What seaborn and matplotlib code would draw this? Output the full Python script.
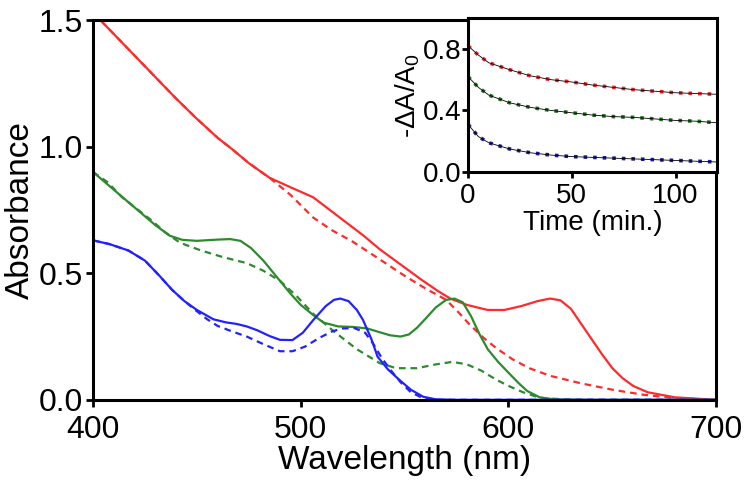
import pandas as pd
import matplotlib
matplotlib.use("Agg")
import matplotlib.pyplot as plt
import seaborn as sns

# Absorbance spectra (wavelength in nm, absorbance)
red_wl = [400, 410, 420, 430, 440, 450, 460, 467, 475, 485, 495, 506, 514, 522, 530, 538, 548,
          558, 566, 572, 580, 590, 598, 606, 614, 620, 625, 630, 635, 640, 645, 650, 655, 660,
          667, 680, 700]
red_abs = [1.53, 1.445, 1.36, 1.275, 1.19, 1.11, 1.035, 0.99, 0.935, 0.877, 0.84, 0.80, 0.75, 0.70,
           0.65, 0.595, 0.535, 0.475, 0.43, 0.40, 0.375, 0.355, 0.355, 0.37, 0.39, 0.40, 0.393,
           0.36, 0.30, 0.24, 0.18, 0.125, 0.085, 0.055, 0.03, 0.01, 0.0]

red_d_wl = [400, 410, 420, 430, 440, 450, 460, 467, 475, 485, 495, 506, 515, 525, 538, 550, 560,
            570, 576, 581, 588, 594, 602, 610, 620, 635, 650, 665, 680, 700]
red_d_abs = [1.53, 1.445, 1.36, 1.275, 1.19, 1.11, 1.035, 0.99, 0.935, 0.877, 0.81, 0.72, 0.67,
             0.625, 0.555, 0.49, 0.44, 0.395, 0.345, 0.30, 0.245, 0.205, 0.16, 0.125, 0.095,
             0.065, 0.04, 0.02, 0.007, 0.0]

green_wl = [400, 410, 420, 430, 437, 443, 450, 460, 466, 471, 476, 482, 488, 495, 500, 506, 511,
            518, 525, 532, 538, 543, 548, 552, 556, 560, 565, 570, 574, 578, 582, 586, 590, 595,
            600, 605, 609, 615, 622, 640, 700]
green_abs = [0.90, 0.83, 0.76, 0.69, 0.648, 0.632, 0.628, 0.633, 0.635, 0.628, 0.60, 0.55, 0.49,
             0.42, 0.375, 0.335, 0.305, 0.29, 0.288, 0.282, 0.267, 0.255, 0.25, 0.258, 0.285,
             0.32, 0.365, 0.395, 0.40, 0.385, 0.33, 0.26, 0.20, 0.15, 0.107, 0.065, 0.035, 0.01,
             0.002, 0.0, 0.0]

green_d_wl = [400, 407, 414, 421, 428, 435, 442, 452, 462, 474, 482, 490, 498, 506, 516, 527, 538,
              546, 556, 565, 573, 580, 587, 594, 600, 607, 615, 630, 700]
green_d_abs = [0.90, 0.86, 0.80, 0.755, 0.71, 0.66, 0.62, 0.59, 0.565, 0.54, 0.51, 0.47, 0.41,
               0.34, 0.27, 0.20, 0.145, 0.125, 0.125, 0.14, 0.15, 0.14, 0.115, 0.08, 0.055,
               0.03, 0.008, 0.0, 0.0]

blue_wl = [400, 408, 417, 425, 432, 438, 444, 450, 458, 464, 469, 474, 479, 485, 490, 496, 501,
           506, 512, 516, 519, 523, 527, 530, 534, 537, 542, 548, 553, 559, 565, 575, 700]
blue_abs = [0.63, 0.615, 0.59, 0.55, 0.49, 0.435, 0.39, 0.355, 0.318, 0.306, 0.30, 0.29, 0.275,
            0.252, 0.237, 0.236, 0.265, 0.315, 0.37, 0.395, 0.40, 0.39, 0.355, 0.315, 0.24,
            0.17, 0.12, 0.075, 0.04, 0.012, 0.002, 0.0, 0.0]

blue_d_wl = [400, 408, 417, 425, 432, 438, 444, 450, 455, 460, 467, 474, 482, 490, 496, 502, 509,
             515, 520, 526, 531, 535, 539, 544, 548, 553, 558, 565, 700]
blue_d_abs = [0.63, 0.615, 0.59, 0.55, 0.49, 0.435, 0.39, 0.35, 0.318, 0.292, 0.27, 0.25, 0.22,
              0.192, 0.192, 0.21, 0.245, 0.27, 0.282, 0.283, 0.265, 0.22, 0.165, 0.11, 0.07,
              0.03, 0.01, 0.0, 0.0]

# Inset kinetics (-dA/A0 vs time)
time_min = [0, 5, 10, 20, 30, 40, 50, 60, 70, 80, 90, 100, 110, 120]
kin_red = [0.82, 0.76, 0.71, 0.665, 0.625, 0.60, 0.585, 0.565, 0.55, 0.535, 0.525, 0.515, 0.51, 0.505]
kin_green = [0.62, 0.55, 0.50, 0.45, 0.42, 0.40, 0.385, 0.37, 0.36, 0.355, 0.345, 0.335, 0.33, 0.32]
kin_blue = [0.31, 0.23, 0.19, 0.15, 0.125, 0.11, 0.10, 0.095, 0.09, 0.085, 0.08, 0.075, 0.07, 0.065]

RED = "#ff2a2a"
GREEN = "#2e8a2e"
BLUE = "#2222ff"

sns.set_style("ticks")
plt.rcParams["font.family"] = ["Liberation Sans", "DejaVu Sans"]
plt.rcParams["mathtext.fontset"] = "custom"
plt.rcParams["mathtext.rm"] = "Liberation Sans"
plt.rcParams["mathtext.it"] = "Liberation Sans"
for key in ["text.color", "axes.labelcolor", "xtick.color", "ytick.color", "axes.edgecolor"]:
    plt.rcParams[key] = "black"

fig = plt.figure(figsize=(7.5, 4.9), dpi=100)
ax = fig.add_axes([0.124, 0.184, 0.831, 0.775])

spectra = [
    (red_wl, red_abs, RED, "-"),
    (red_d_wl, red_d_abs, RED, "--"),
    (green_wl, green_abs, GREEN, "-"),
    (green_d_wl, green_d_abs, GREEN, "--"),
    (blue_wl, blue_abs, BLUE, "-"),
    (blue_d_wl, blue_d_abs, BLUE, "--"),
]
for wl, ab, col, ls in spectra:
    df = pd.DataFrame({"wl": wl, "abs": ab})
    sns.lineplot(data=df, x="wl", y="abs", color=col, lw=1.6, ax=ax,
                 estimator=None, sort=False)
    if ls == "--":
        ax.lines[-1].set_dashes((3, 2.2))

ax.set_xlim(400, 700)
ax.set_ylim(0, 1.5)
ax.set_xticks([400, 500, 600, 700])
ax.set_yticks([0.0, 0.5, 1.0, 1.5])
ax.set_yticklabels(["0.0", "0.5", "1.0", "1.5"])
ax.set_xlabel("Wavelength (nm)", fontsize=24, labelpad=0)
ax.set_ylabel("Absorbance", fontsize=24, labelpad=2)
ax.tick_params(labelsize=23, width=2, length=5, direction="out", pad=2)
ax.tick_params(axis="x", pad=6)
for s in ax.spines.values():
    s.set_linewidth(2.2)

# inset
ins = fig.add_axes([0.624, 0.649, 0.332, 0.314])
for vals, col in [(kin_red, "#e8202a"), (kin_green, "#1f6e1f"), (kin_blue, "#1c1c9a")]:
    df = pd.DataFrame({"t": time_min, "v": vals})
    sns.lineplot(data=df, x="t", y="v", color=col, lw=2.6, ls=":", ax=ins, estimator=None)
    sns.lineplot(data=df, x="t", y="v", color="black", lw=0.6, ax=ins, estimator=None)

ins.set_xlim(0, 120)
ins.set_ylim(0, 1.0)
ins.set_xticks([0, 50, 100])
ins.set_yticks([0.0, 0.4, 0.8])
ins.set_yticklabels(["0.0", "0.4", "0.8"])
ins.set_xlabel("Time (min.)", fontsize=20, labelpad=1)
ins.set_ylabel(r"-$\Delta$A/A$_0$", fontsize=20, labelpad=0)
ins.tick_params(labelsize=20, width=2, length=4, direction="out", pad=1)
ins.tick_params(axis="x", pad=4)
for s in ins.spines.values():
    s.set_linewidth(2.2)

fig.savefig("out.png", dpi=100)
